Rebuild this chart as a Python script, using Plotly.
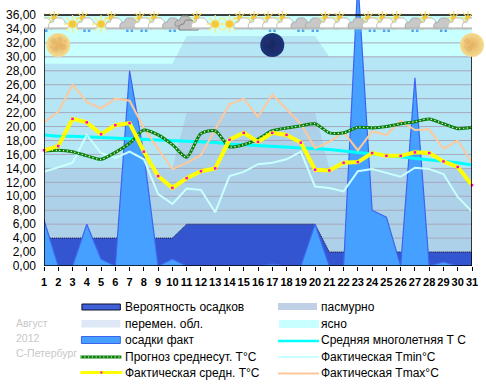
import plotly.graph_objects as go

# ---------- data ----------
days = list(range(1, 32))
clear_top = [36] * 31
variable_top = [29]*10 + [33]*10 + [30]*11
overcast_top = [14]*10 + [22]*10 + [14]*11
prob_precip = [4]*10 + [6]*10 + [2]*11
precip_fact = [6.6,0,0,6,1,0,28,16,0,1,0,0,0,0,0,0,0.3,0,0,6,0,0,41,8,7,0,27,0,0.6,0,0]
t_normal = [18.8,18.6,18.6,18.5,18.5,18.4,18.3,18.2,18.1,18,17.9,17.8,17.7,17.5,17.4,17.3,
            17.1,17,16.9,16.8,16.7,16.5,16.3,16,15.8,15.6,15.4,15.2,15,14.8,14.5]
t_forecast = [16.5,16.6,16.4,15.8,15.3,16.3,17.6,19.5,18.8,17.4,15.6,19,19.4,17.1,17.4,18.2,
              19.4,19.8,20.1,20.4,19.1,19.1,19.9,19.8,20,20.4,20.7,21.1,20.4,19.7,19.9]
t_min = [13.5,14.2,14.8,18.8,16.2,15.5,16.4,15.3,10.3,8.9,11.1,10.9,7.7,12.9,13.5,14.6,
         14.8,15.3,16.4,11.4,11.2,10.7,13.6,13.9,13.3,12.8,14.1,13.9,13.2,9.9,7.8]
t_max = [20.6,22.1,26,23.5,22.6,24,23.7,19.8,16.8,13.9,14.8,15.9,19.6,23.2,24,21.4,
         24.6,22.5,20.4,16.9,17.8,19.2,16.6,19.3,18.8,20.8,19.5,19.6,16.8,18,14.8]
t_fact = [16.6,17.2,21.1,20.6,18.9,20.2,20.5,16.4,12.9,11.2,12.6,13.6,14,18.1,19.1,17.8,
          19.1,18.8,17.7,13.8,13.7,14.8,14.9,16.2,15.8,15.8,16.3,16.2,15,14.2,11.6]
y_ticks = list(range(0, 37, 2))
y_ticklabels = [f"{v},00" for v in y_ticks]
grid_levels = list(range(2, 33, 2))
# weather icons: S sun, P partly cloudy, G grey cloud, D double grey cloud
sky = list("PPSPSPGPPGDPSSPPPPGGPPGPPPGPGPP")
rain_days = [1,4,7,8,10,17,19,20,23,24,25,27,29]
icon_level = 34.7
moon_days = [2, 17, 31]
moon_level = [31.7, 31.7, 31.7]
moon_fill = ["#F4DC90", "#1C3478", "#F4DC90"]
moon_edge = ["#E6B060", "#14285E", "#E6B060"]

legend_left = ["Вероятность осадков", "перемен. обл.", "осадки факт",
               "Прогноз среднесут. T°C", "Фактическая средн. T°C"]
legend_right = ["пасмурно", "ясно", "Средняя многолетняя Т С",
                "Фактическая Tmin°C", "Фактическая Tmax°C"]
side_text = ["Август", "2012", "С-Петербург"]

# ---------- layout geometry ----------
W, H = 486, 387
L, R, B = 43.5, 472.3, 266
px = lambda p: (p - L) / (R - L)
py = lambda p: (B - p) / B
FONT = "Liberation Sans"

fig = go.Figure()

def area(y, color, name):
    fig.add_trace(go.Scatter(x=days, y=y, mode="lines", fill="tozeroy", fillcolor=color,
                             line=dict(width=0), name=name, showlegend=False, hoverinfo="skip"))

area(clear_top, "#C8FFFF", "ясно")
area(variable_top, "#B5E6F5", "перемен. обл.")
area(overcast_top, "#ADD1E8", "пасмурно")

# grid drawn above the sky bands
gx, gy = [], []
for v in grid_levels:
    gx += [1, 31, None]
    gy += [v, v, None]
fig.add_trace(go.Scatter(x=gx, y=gy, mode="lines", line=dict(color="#A8A8BC", width=1),
                         showlegend=False, hoverinfo="skip"))

fig.add_trace(go.Scatter(x=days, y=prob_precip, mode="lines", fill="tozeroy",
                         fillcolor="rgba(44,78,206,0.95)", line=dict(color="#1A1A3A", width=1, dash="1px,1px"),
                         name="Вероятность осадков", showlegend=False))
fig.add_trace(go.Scatter(x=days, y=precip_fact, mode="lines", fill="tozeroy", fillcolor="#46A0FF",
                         line=dict(color="#3C64F0", width=1.2), name="осадки факт", showlegend=False))
fig.add_trace(go.Scatter(x=days, y=t_normal, mode="lines", line=dict(color="#00FFFF", width=3),
                         cliponaxis=False, name="Средняя многолетняя Т С", showlegend=False))
fig.add_trace(go.Scatter(x=days, y=t_min, mode="lines", line=dict(color="#C8FFFF", width=2),
                         cliponaxis=False, name="Фактическая Tmin°C", showlegend=False))
fig.add_trace(go.Scatter(x=days, y=t_max, mode="lines", line=dict(color="#FFC89B", width=2),
                         cliponaxis=False, name="Фактическая Tmax°C", showlegend=False))
fig.add_trace(go.Scatter(x=days, y=t_forecast, mode="lines", line=dict(color="#0A800A", width=3, shape="spline", smoothing=0.7),
                         cliponaxis=False, name="Прогноз среднесут. T°C", showlegend=False))
fig.add_trace(go.Scatter(x=days, y=t_forecast, mode="lines",
                         line=dict(color="#F0FFF0", width=1.2, dash="1.2px,2.6px", shape="spline", smoothing=0.7),
                         cliponaxis=False, showlegend=False, hoverinfo="skip"))
fig.add_trace(go.Scatter(x=days, y=t_fact, mode="lines+markers", line=dict(color="#FFFF00", width=4),
                         marker=dict(color="#FF00E0", size=2.5, symbol="square"),
                         cliponaxis=False, name="Фактическая средн. T°C", showlegend=False))
fig.add_trace(go.Scatter(x=moon_days, y=moon_level, mode="markers", cliponaxis=False, showlegend=False,
                         marker=dict(size=24, color=moon_fill, line=dict(width=0),
                                     gradient=dict(type="radial", color=moon_edge)), name="Луна"))

# ---------- weather icons as pixel-sized shapes anchored to the day axis ----------
shapes = []
def icon(path, day, fill, line, lw=1, level=icon_level):
    shapes.append(dict(type="path", layer="above", xref="x", yref="y", xsizemode="pixel", ysizemode="pixel",
                       xanchor=day, yanchor=level, path=path, fillcolor=fill,
                       line=dict(color=line, width=lw)))

def circle(cx, cy, r):
    return (f"M {cx-r},{cy} C {cx-r},{cy+r*1.3} {cx+r},{cy+r*1.3} {cx+r},{cy} "
            f"C {cx+r},{cy-r*1.3} {cx-r},{cy-r*1.3} {cx-r},{cy} Z")

def rays(cx, cy, r0, r1):
    d = [(1,0),(.7,.7),(0,1),(-.7,.7),(-1,0),(-.7,-.7),(0,-1),(.7,-.7)]
    return " ".join(f"M {cx+a*r0},{cy+b*r0} L {cx+a*r1},{cy+b*r1}" for a, b in d)

def cloud(cx=0, cy=0):
    return (f"M {cx-9.5},{cy-4} L {cx+9.5},{cy-4} Q {cx+12},{cy} {cx+7},{cy+1} "
            f"Q {cx+5},{cy+7} {cx},{cy+6} Q {cx-4},{cy+7} {cx-5},{cy+2} Q {cx-11},{cy+2} {cx-9.5},{cy-4} Z")

def base(cx=0, cy=0):
    return f"M {cx-9},{cy-4.5} L {cx+9},{cy-4.5}"

for d, k in zip(days, sky):
    if k == "S":
        icon(rays(0, 0, 5, 9), d, "rgba(0,0,0,0)", "#FFE878", 1.3)
        icon(circle(0, 0, 4), d, "#F6C838", "#F9E070", 1)
    elif k == "P":
        icon(rays(-4, 6, 3, 7), d, "rgba(0,0,0,0)", "#F8D850", 1.1)
        icon(circle(-4, 6, 2.5), d, "#F6C838", "#F6C838", 1)
        icon(cloud(), d, "#FFFFFF", "#BEBEBE", 1)
        icon(base(), d, "rgba(0,0,0,0)", "#BDBDBD", 1.8)
    elif k == "G":
        icon(cloud(), d, "#C8C8C8", "#ABABAB", 1)
        icon(base(), d, "rgba(0,0,0,0)", "#BDBDBD", 1.8)
    else:
        icon(cloud(-2, 2), d, "#BDBDBD", "#999999", 1)
        icon(cloud(2, -2), d, "#C0C0C0", "#808080", 1)
for d in rain_days:
    icon("M -3.5,-5.5 L -1,-5.5 L -1,-8 L -3.5,-8 Z M 1,-5.5 L 3.5,-5.5 L 3.5,-8 L 1,-8 Z", d, "#54A4F0", "#54A4F0", 0)

# moon surface blotches, offsets in pixels from each moon centre
full_spots = [(-5,4,3),(2,6,2.5),(5,-2,3.5),(-3,-4,3),(-7,-2,1.5),(7,4,1.5)]
dark_spots = [(-4,3,3),(4,-3,3.5),(3,5,2),(-3,-6,2)]
for md, lvl in zip(moon_days, moon_level):
    dark = md == 17
    for sx, sy, sr in (dark_spots if dark else full_spots):
        c = "rgba(60,40,120,0.3)" if dark else "rgba(215,160,90,0.3)"
        icon(circle(sx, sy, sr), md, c, "rgba(0,0,0,0)", 0, level=lvl)

# frame
shapes += [
    dict(type="line", layer="above", xref="x", yref="y", x0=1, x1=31, y0=0, y1=0, line=dict(color="black", width=1.5)),
    dict(type="line", layer="above", xref="x", yref="y", x0=1, x1=1, y0=0, y1=34, line=dict(color="black", width=1.5)),
    dict(type="line", layer="above", xref="x", yref="y", x0=31, x1=31, y0=0, y1=30, line=dict(color="black", width=1.5)),
]
shapes.insert(0, dict(type="line", layer="above", xref="x", yref="y", x0=1, x1=31, y0=36, y1=36, line=dict(color="black", width=1.5)))

# ---------- hand-laid legend ----------
rows = [307, 324, 340, 357, 373]
annots = []
def label(text, x, y, color="#000000", size=12):
    annots.append(dict(text=text, xref="paper", yref="paper", x=px(x), y=py(y), xanchor="left", yanchor="middle",
                       showarrow=False, font=dict(family=FONT, size=size, color=color), align="left", borderpad=0))
for t, y in zip(legend_left, rows):
    label(t, 123.5, y)
for t, y in zip(legend_right, rows):
    label(t, 320.5, y)
for t, y in zip(side_text, [323, 338, 353]):
    label(t, 14, y, "#C8C8C8", 10.5)

def swatch(x0, x1, y0, y1, fill, line=None, lw=1):
    shapes.append(dict(type="rect", layer="above", xref="paper", yref="paper", x0=px(x0), x1=px(x1), y0=py(y0), y1=py(y1),
                       fillcolor=fill, line=dict(color=line or fill, width=lw if line else 0)))
def hline(x0, x1, y, color, w, dash="solid"):
    shapes.append(dict(type="line", layer="above", xref="paper", yref="paper", x0=px(x0), x1=px(x1), y0=py(y), y1=py(y),
                       line=dict(color=color, width=w, dash=dash)))
swatch(81.5, 120, 304, 310, "#4060D8", "#101030", 1)
swatch(81, 120, 320, 327.5, "#DDE7F6")
swatch(81, 120, 336.5, 343.5, "#46A0FF", "#3C64F0", 1)
hline(80, 121, 357, "#0A800A", 2.8)
hline(80, 121, 357, "#F0FFF0", 1, "1.2px,2.6px")
hline(80, 122, 372.5, "#FFFF00", 3)
swatch(100, 102, 371.5, 373.5, "#FF00E0")
swatch(278, 317, 303, 310, "#BECFE6")
swatch(279, 319, 320, 328, "#C8FFFF")
hline(278, 319, 341, "#00FFFF", 2.5)
hline(278, 319, 357, "#C8FFFF", 2)
hline(278, 319, 373.5, "#FFC89B", 2)

fig.update_layout(
    width=W, height=H, autosize=False,
    margin=dict(l=L, r=W - R, t=0, b=H - B, pad=0),
    paper_bgcolor="white", plot_bgcolor="white", showlegend=False,
    shapes=shapes, annotations=annots,
    font=dict(family=FONT, size=12, color="black"),
)
fig.update_xaxes(range=[1, 31], tickmode="array", tickvals=days, ticktext=[str(d) for d in days],
                 ticks="outside", ticklen=4, tickcolor="black", showgrid=False, zeroline=False, showline=False,
                 tickangle=0, ticklabelstandoff=2, tickfont=dict(family=FONT, size=11, color="black", weight="bold"))
fig.update_yaxes(range=[0, B * 36 / 251], tickmode="array", tickvals=y_ticks, ticktext=y_ticklabels,
                 ticks="", showgrid=False, zeroline=False, showline=False,
                 ticklabelstandoff=7, tickfont=dict(family=FONT, size=12, color="black"))

fig.write_html("out.html", config={"displayModeBar": False},
               post_script="document.body.style.margin='0';document.body.style.overflow='hidden';")
